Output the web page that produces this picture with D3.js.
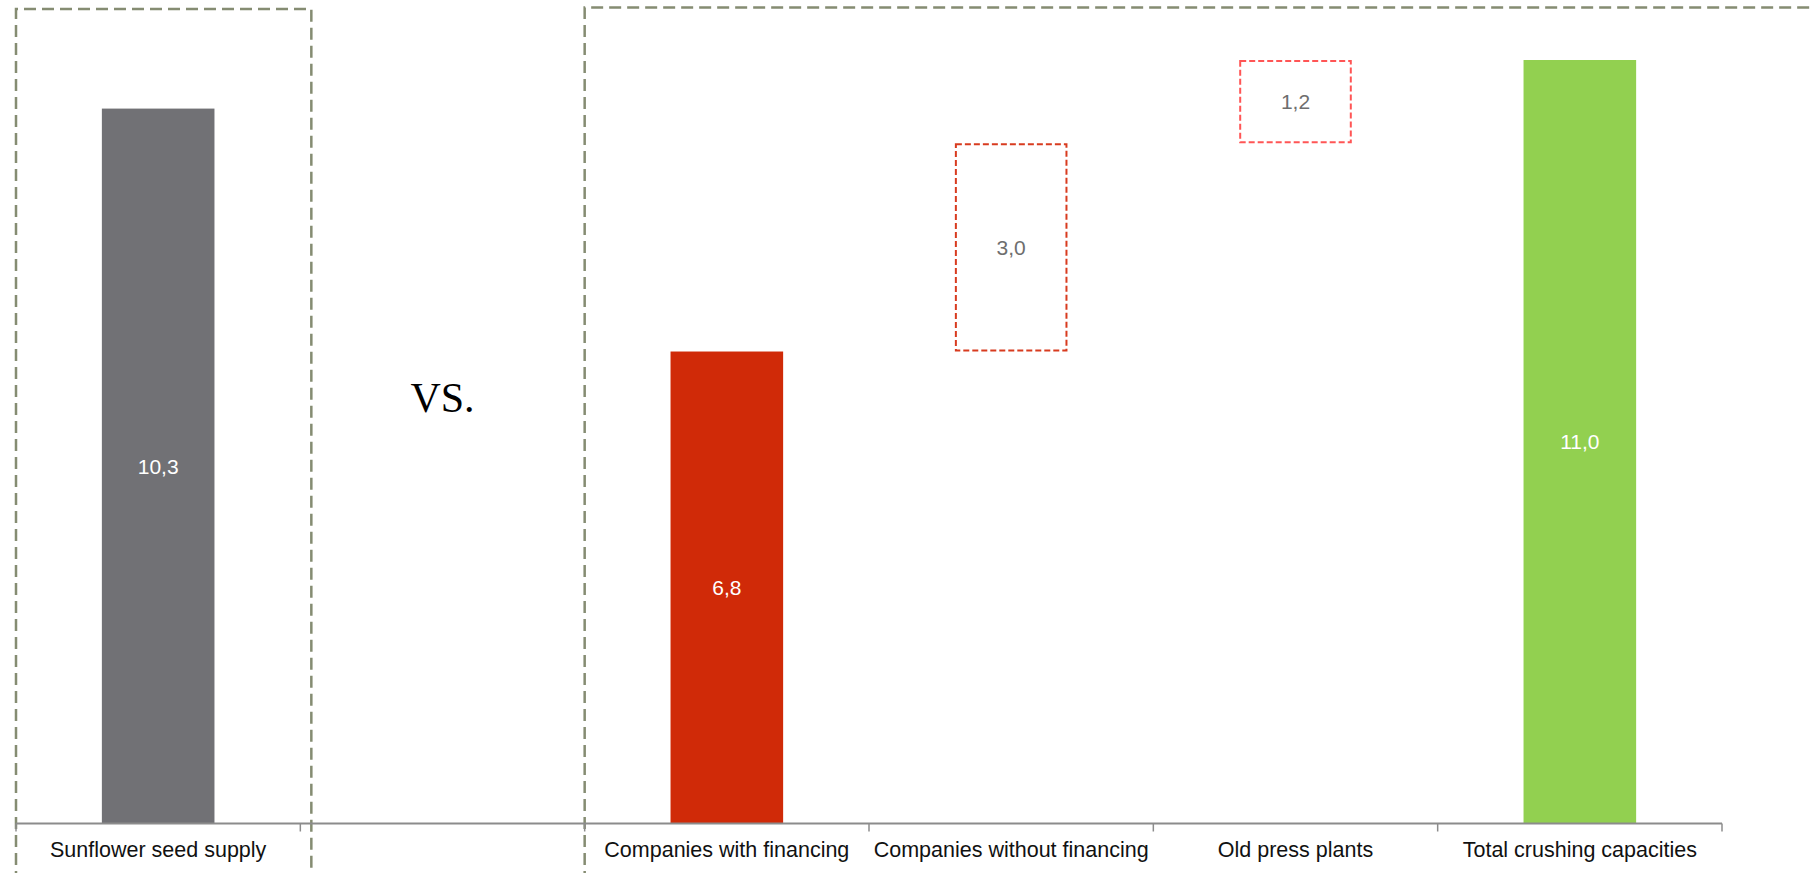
<!DOCTYPE html>
<html>
<head>
<meta charset="utf-8">
<script src="https://cdn.jsdelivr.net/npm/d3@7"></script>
<style>
  html, body { margin: 0; padding: 0; background: #ffffff; }
  svg { display: block; }
</style>
</head>
<body>
<svg id="chart" width="1813" height="873"></svg>
<script>
// ---- data ----
const categories = ["Sunflower seed supply", "", "Companies with financing", "Companies without financing", "Old press plants", "Total crushing capacities"];
const values     = [10.3, null, 6.8, 3.0, 1.2, 11.0];
const bases      = [0,    null, 0,   6.8, 9.8, 0];
const barKinds   = ["solid", null, "solid", "dashed", "dashed", "solid"];
const barColors  = ["#717175", null, "#d02a08", "#d83b1f", "#ff5555", "#92d050"];
const labelColors = ["#ffffff", null, "#ffffff", "#6e6e6e", "#6e6e6e", "#ffffff"];
const vsText = "VS.";

// ---- layout ----
const W = 1813, H = 873;
const axisY = 823.5;
const svg = d3.select("#chart");

const x = d3.scaleBand()
  .domain(d3.range(categories.length))
  .range([16, 1722])
  .paddingInner(0.604)
  .paddingOuter(0.302);

const y = d3.scaleLinear().domain([0, 11]).range([axisY, 60]);

const fmtLocale = d3.formatLocale({decimal: ",", thousands: ".", grouping: [3], currency: ["", ""]});
const fmt = fmtLocale.format(".1f");

const rows = categories.map((c, i) => ({
  i, cat: c, v: values[i], b: bases[i], kind: barKinds[i], color: barColors[i], lc: labelColors[i]
})).filter(d => d.v !== null);

// ---- group boxes (dashed) ----
const step = x.step();
const boxColor = "#858c72";
// left group box: covers first category
const leftBoxL = x(0) - x.paddingOuter() * step;
const leftBoxR = leftBoxL + step + 11;
svg.append("path")
  .attr("d", `M${leftBoxL},${H + 10} V9 H${leftBoxR} V${H + 10}`)
  .attr("fill", "none")
  .attr("stroke", boxColor)
  .attr("stroke-width", 2.5)
  .attr("stroke-dasharray", "12,6");

// right group box: starts at boundary of category 2
const rightBoxL = x(2) - x.paddingOuter() * step;
svg.append("path")
  .attr("d", `M${rightBoxL},${H + 10} V7.5 H${W + 10}`)
  .attr("fill", "none")
  .attr("stroke", boxColor)
  .attr("stroke-width", 2.5)
  .attr("stroke-dasharray", "12,6");

// ---- bars ----
const bars = svg.append("g");
rows.forEach(d => {
  const x0 = x(d.i), bw = x.bandwidth();
  const yTop = y(d.b + d.v), yBot = y(d.b);
  if (d.kind === "solid") {
    bars.append("rect")
      .attr("x", x0).attr("y", yTop)
      .attr("width", bw).attr("height", yBot - yTop)
      .attr("fill", d.color);
  } else {
    bars.append("rect")
      .attr("x", x0 + 1).attr("y", yTop + 1)
      .attr("width", bw - 2).attr("height", yBot - yTop - 2)
      .attr("fill", "none")
      .attr("stroke", d.color)
      .attr("stroke-width", 2)
      .attr("stroke-dasharray", "6,3");
  }
  bars.append("text")
    .attr("x", x0 + bw / 2)
    .attr("y", (yTop + yBot) / 2)
    .attr("text-anchor", "middle")
    .attr("dy", "0.36em")
    .attr("font-family", "Liberation Sans, Arial, sans-serif")
    .attr("font-size", 21)
    .attr("fill", d.lc)
    .text(fmt(d.v));
});

// ---- axis ----
const ax = svg.append("g");
ax.append("line")
  .attr("x1", 16).attr("x2", 1722)
  .attr("y1", axisY).attr("y2", axisY)
  .attr("stroke", "#8c8c8c").attr("stroke-width", 2);
const bounds = d3.range(categories.length + 1).map(k => 16 + k * step);
ax.selectAll("line.tick").data(bounds).join("line")
  .attr("class", "tick")
  .attr("x1", d => d).attr("x2", d => d)
  .attr("y1", axisY).attr("y2", axisY + 8)
  .attr("stroke", "#8c8c8c").attr("stroke-width", 1.5);
ax.selectAll("text.cat").data(categories.map((c, i) => ({c, i}))).join("text")
  .attr("class", "cat")
  .attr("x", d => x(d.i) + x.bandwidth() / 2)
  .attr("y", 857)
  .attr("text-anchor", "middle")
  .attr("font-family", "Liberation Sans, Arial, sans-serif")
  .attr("font-size", 21.5)
  .attr("fill", "#111111")
  .text(d => d.c);

// ---- VS. ----
svg.append("text")
  .attr("x", x(1) + x.bandwidth() / 2)
  .attr("y", 412)
  .attr("text-anchor", "middle")
  .attr("font-family", "Liberation Serif, Times New Roman, serif")
  .attr("font-size", 42)
  .attr("fill", "#000000")
  .text(vsText);
</script>
</body>
</html>
